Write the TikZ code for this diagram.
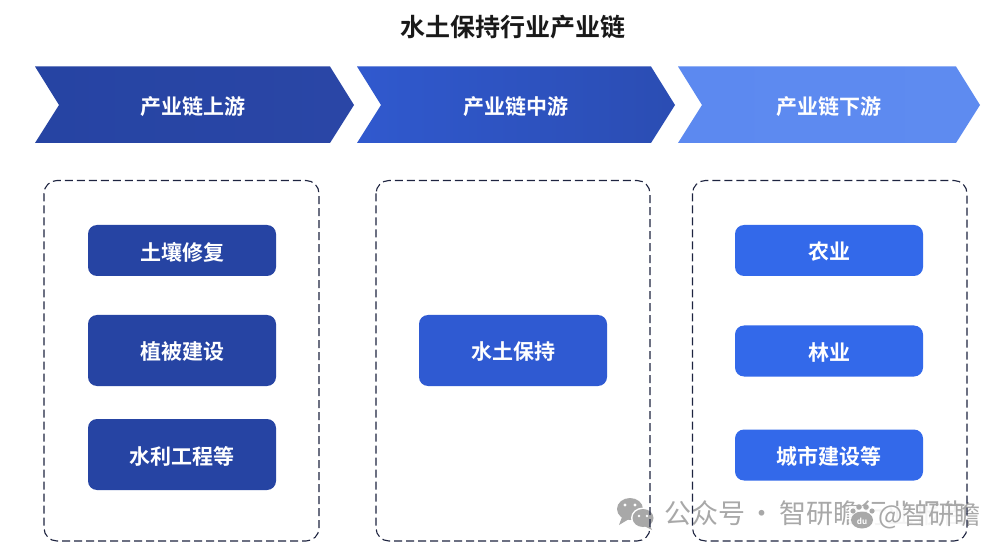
\documentclass[tikz,border=0pt]{standalone}
\usepackage{fontspec}
\setmainfont{Noto Sans CJK SC}[BoldFont={Noto Sans CJK SC Bold}]
\newfontfamily\cjkbold{Noto Sans CJK SC Bold}
\newfontfamily\cjkreg{Noto Sans CJK SC}
\newcommand{\lowertext}[1]{\raisebox{-1.5pt}[\height][\depth]{#1}}
\definecolor{deep}{HTML}{2644A3}
\definecolor{deepB}{HTML}{2A46A6}
\definecolor{midA}{HTML}{3059CE}
\definecolor{midB}{HTML}{2B4DB3}
\definecolor{lightA}{HTML}{5C89F0}
\definecolor{lightB}{HTML}{5E8BF0}
\definecolor{midbox}{HTML}{2F5AD2}
\definecolor{rightbox}{HTML}{3369EA}
\definecolor{dashc}{HTML}{1E2440}
\definecolor{wmgray}{HTML}{A8A8A8}
\tikzset{
 x=1pt,y=-1pt,
 chev/.style={draw=none},
 chevtext/.style={text=white,font=\cjkbold\fontsize{21}{21}\selectfont,inner sep=0pt},
 dashbox/.style={draw=dashc,line width=1.1pt,dash pattern=on 8pt off 4pt,rounded corners=13pt},
 itembox/.style={draw=none,rounded corners=9pt,text=white,font=\cjkbold\fontsize{21}{21}\selectfont,inner sep=0pt,minimum width=188pt,anchor=center},
 wmtext/.style={text=wmgray,font=\cjkreg\fontsize{27}{27}\selectfont,inner sep=0pt,anchor=west},
}
\begin{document}
\begin{tikzpicture}
\useasboundingbox (0,0) rectangle (1004,553);
\fill[white] (0,0) rectangle (1004,553);
\node[inner sep=0pt,font=\cjkbold\fontsize{25}{25}\selectfont,text=black!90] (title) at (512.5,27) {水土保持行业产业链};
% chevrons
\path[chev,left color=deep,right color=deepB] (35,66.5) -- (330,66.5) -- (354,105) -- (330,143) -- (35,143) -- (59,105) -- cycle;
\path[chev,left color=midA,right color=midB] (357,66.5) -- (651,66.5) -- (675,105) -- (651,143) -- (357,143) -- (381,105) -- cycle;
\path[chev,left color=lightA,right color=lightB] (678,66.5) -- (956,66.5) -- (980,105) -- (956,143) -- (678,143) -- (702,105) -- cycle;
\node[chevtext] (up) at (193,107) {产业链上游};
\node[chevtext] (mid) at (515.5,107) {产业链中游};
\node[chevtext] (down) at (828.5,107) {产业链下游};
% items
\node[itembox,fill=deep,minimum height=51pt] (a1) at (182,250.5) {\lowertext{土壤修复}};
\node[itembox,fill=deep,minimum height=71pt] (a2) at (182,350.5) {\lowertext{植被建设}};
\node[itembox,fill=deep,minimum height=71pt] (a3) at (182,454.5) {\lowertext{水利工程等}};
\node[itembox,fill=midbox,minimum height=71pt] (b1) at (513,350.5) {\lowertext{水土保持}};
\node[itembox,fill=rightbox,minimum height=51pt] (c1) at (829,250.5) {\lowertext{农业}};
\node[itembox,fill=rightbox,minimum height=51pt] (c2) at (829,351) {\lowertext{林业}};
\node[itembox,fill=rightbox,minimum height=51pt] (c3) at (829,455) {\lowertext{城市建设等}};
% watermark
\fill[wmgray] (630,509) ellipse (13pt and 11pt);
\fill[wmgray] (622,517) -- (619,525) -- (629,519) -- cycle;
\fill[white] (643,518) ellipse (12pt and 10.5pt);
\fill[wmgray] (643,518) ellipse (10.5pt and 9pt);
\fill[wmgray] (649,524) -- (652,530) -- (644,526) -- cycle;
\fill[white] (625,505) circle (1.6pt) (635,505) circle (1.6pt) (639,516) circle (1.3pt) (647,516) circle (1.3pt);
\node[wmtext] (wm1) at (664,513) {\spaceskip=3.5pt 公众号 · 智研瞻行业报告};
\fill[white,opacity=0.88] (849,506) rectangle (986,530);
% second mark
\fill[wmgray] (862,520) ellipse (11pt and 8.5pt);
\fill[wmgray] (853,511) circle (2.6pt) (859,507) circle (2.8pt) (866,507) circle (2.8pt) (872,511) circle (2.6pt);
\node[inner sep=0pt,text=white,font=\cjkbold\fontsize{8}{8}\selectfont] (wm3) at (862,521) {du};
\node[text=wmgray,font=\cjkreg\fontsize{26}{26}\selectfont,inner sep=0pt,anchor=west] (wm2) at (878,516) {@智研瞻};
% dashed boxes
\draw[dashbox] (44,180.5) rectangle (319,541);
\draw[dashbox] (376,180.5) rectangle (650,541);
\draw[dashbox] (692.5,180.5) rectangle (967,541);
\end{tikzpicture}
\end{document}
